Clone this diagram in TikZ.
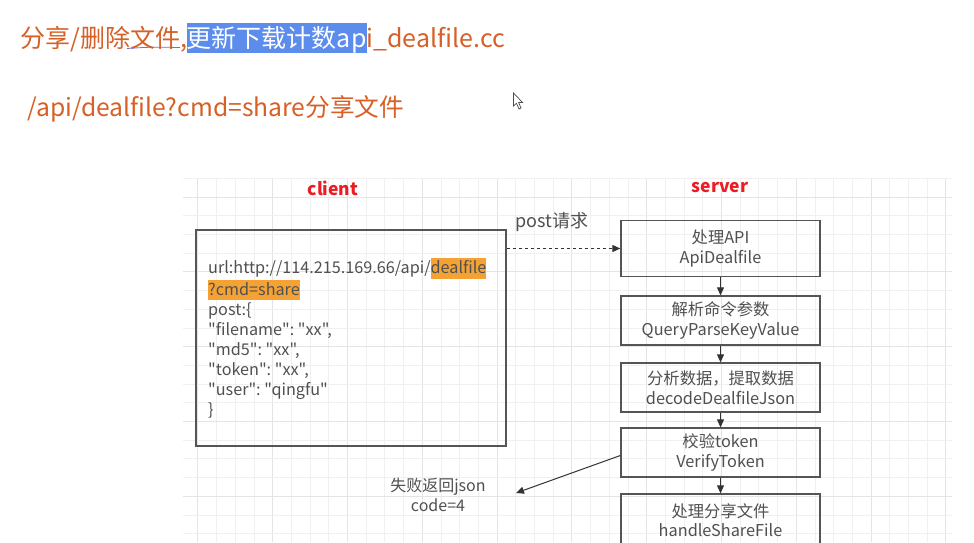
\documentclass[tikz,border=0pt]{standalone}
\usepackage{fontspec}
\setmainfont{Noto Sans CJK SC}
\setmonofont{Noto Sans CJK SC}
\usetikzlibrary{arrows.meta}
\definecolor{titleor}{RGB}{214,96,38}
\definecolor{selblue}{RGB}{92,140,236}
\definecolor{hlor}{RGB}{245,162,52}
\definecolor{txtgrey}{RGB}{80,80,80}
\definecolor{boxgrey}{RGB}{85,85,85}
\definecolor{redlabel}{RGB}{236,28,36}
\definecolor{gridmin}{RGB}{240,240,240}
\definecolor{gridmaj}{RGB}{228,228,228}
\definecolor{inkline}{RGB}{120,110,200}
\newcommand{\hlo}[1]{{\setlength{\fboxsep}{0pt}\colorbox{hlor}{\rule[-5pt]{0pt}{20.5pt}#1}}}
\newcommand{\hlsel}[1]{{\setlength{\fboxsep}{0pt}\colorbox{selblue}{\rule[-6pt]{0pt}{30pt}\textcolor{white}{#1}}}}
\begin{document}
\begin{tikzpicture}[x=1pt,y=-1pt,
  title/.style={text=titleor,font=\fontsize{25}{28}\selectfont,inner sep=0pt,anchor=base west},
  side/.style={text=redlabel,font=\bfseries\fontsize{17.5}{20}\selectfont,inner sep=0pt},
  srv/.style={draw=boxgrey,line width=1.3pt,minimum width=199pt,align=center,text=txtgrey,font=\fontsize{16.3}{19.5}\selectfont,inner sep=0pt},
  cbox/.style={draw=boxgrey,line width=1.3pt,minimum width=310pt,minimum height=216pt,inner sep=0pt},
  ctext/.style={text=txtgrey,font=\ttfamily\fontsize{16.2}{20}\selectfont,align=left,inner sep=0pt},
  lbl/.style={text=txtgrey,font=\fontsize{16}{20}\selectfont,align=center,inner sep=0pt},
  flow/.style={draw=black!80,line width=1pt,-{Triangle[length=8pt,width=7pt]}},
  gminor/.style={draw=gridmin,line width=0.8pt},
  gmajor/.style={draw=gridmaj,line width=1pt}]
\useasboundingbox[fill=white] (0,0) rectangle (974,542);
% grid background
\begin{scope}
  \clip (183,178) rectangle (952,542);
  \foreach \i in {-37,...,4}{
    \pgfmathtruncatemacro{\m}{mod(\i+400,4)}
    \ifnum\m=0 \draw[gmajor] (871+\i*18.7,178) -- (871+\i*18.7,542);
    \else \draw[gminor] (871+\i*18.7,178) -- (871+\i*18.7,542); \fi
  }
  \foreach \j in {-1,...,19}{
    \pgfmathtruncatemacro{\m}{mod(\j+400,4)}
    \ifnum\m=0 \draw[gmajor] (183,197+\j*18.7) -- (952,197+\j*18.7);
    \else \draw[gminor] (183,197+\j*18.7) -- (952,197+\j*18.7); \fi
  }
\end{scope}
% titles
\node[title] (t1) at (20,47) {分享/删除文件,\hlsel{更新下载计数ap}i\_dealfile.cc};
\draw[inkline,line width=0.8pt] (127,48.5) .. controls (150,47) .. (180,47.5);
\node[title,font=\fontsize{24.7}{28}\selectfont] (t2) at (27,116) {/api/dealfile?cmd=share分享文件};
% mouse cursor
\draw[black!70,fill=white,line width=0.7pt] (513.5,93) -- (513.5,106) -- (516.5,103.3) -- (519,109) -- (521,108) -- (518.6,102.4) -- (522.5,102.4) -- cycle;
% side labels
\node[side] (lc) at (333,188) {client};
\node[side] (ls) at (720,188) {server};
% client box
\node[cbox] (client) at (351,338) {};
\node[ctext,anchor=north west] (ctx) at (208,258) {url:http://114.215.169.66/api/\hlo{dealfile}\\
\hlo{?cmd=share}\\
post:\{\\
"filename": "xx",\\
"md5": "xx",\\
"token": "xx",\\
"user": "qingfu"\\
\}};
% server boxes
\node[srv,minimum height=56pt] (b1) at (720.5,248.5) {处理API\\ApiDealfile};
\node[srv,minimum height=49pt] (b2) at (720.5,320.5) {解析命令参数\\QueryParseKeyValue};
\node[srv,minimum height=49pt] (b3) at (720.5,387.5) {分析数据，提取数据\\decodeDealfileJson};
\node[srv,minimum height=49pt] (b4) at (720.5,452.5) {校验token\\VerifyToken};
\node[srv,minimum height=52pt] (b5) at (720.5,520) {处理分享文件\\handleShareFile};
\draw[flow] (b1) -- (b2);
\draw[flow] (b2) -- (b3);
\draw[flow] (b3) -- (b4);
\draw[flow] (b4) -- (b5);
% post request
\draw[flow,dashed] (client.east |- b1.west) -- (b1.west);
\node[lbl,font=\fontsize{18}{20}\selectfont] (post) at (552,222) {post请求};
% failure
\coordinate (failend) at (516,493);
\draw[flow] ([yshift=-3pt]b4.west) -- (failend);
\node[lbl] (fail) at (438,495) {失败返回json\\code=4};
\end{tikzpicture}
\end{document}
